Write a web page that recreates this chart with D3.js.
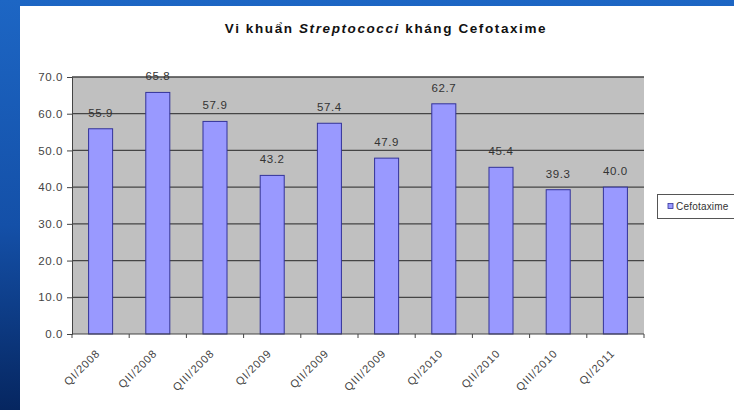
<!DOCTYPE html>
<html><head><meta charset="utf-8">
<script src="https://cdn.jsdelivr.net/npm/d3@7"></script>
<style>html,body{margin:0;padding:0;background:#fff;}svg{display:block;}</style>
</head><body>
<svg id="c" width="734" height="410"></svg>
<script>
const categories = ["QI/2008","QII/2008","QIII/2008","QI/2009","QII/2009","QIII/2009","QI/2010","QII/2010","QIII/2010","QI/2011"];
const values = [55.9,65.8,57.9,43.2,57.4,47.9,62.7,45.4,39.3,40.0];
const yTicks = [0,10,20,30,40,50,60,70];
const seriesName = "Cefotaxime";

const FONT = "Liberation Sans, Arial, sans-serif";
const svg = d3.select("#c");
// slide background
const bg = svg.append("defs").append("linearGradient").attr("id","lg").attr("x1",0).attr("y1",0).attr("x2",0).attr("y2",1);
bg.append("stop").attr("offset","0%").attr("stop-color","#1d66c4");
bg.append("stop").attr("offset","55%").attr("stop-color","#1450a8");
bg.append("stop").attr("offset","100%").attr("stop-color","#062660");
svg.append("rect").attr("width",734).attr("height",410).attr("fill","url(#lg)");
svg.append("rect").attr("x",20).attr("y",6).attr("width",714).attr("height",404).attr("fill","#fff");

const L=72,R=644,T=77,B=334;
const x = d3.scaleBand().domain(categories).range([L,R]).paddingInner(0.58).paddingOuter(0.29);
const y = d3.scaleLinear().domain([0,70]).range([B,T]);

svg.append("rect").attr("x",L).attr("y",T).attr("width",R-L).attr("height",B-T).attr("fill","#c0c0c0");

const g = svg.append("g");
g.selectAll("line.grid").data(yTicks.filter(d=>d>0)).join("line")
 .attr("x1",L).attr("x2",R).attr("y1",d=>y(d)).attr("y2",d=>y(d))
 .attr("stroke","#454545").attr("stroke-width",1.3);

g.selectAll("rect.bar").data(values).join("rect")
 .attr("x",(d,i)=>x(categories[i])).attr("width",x.bandwidth())
 .attr("y",d=>y(d)).attr("height",d=>B-y(d))
 .attr("fill","#9999ff").attr("stroke","#333399").attr("stroke-width",1);

g.selectAll("text.val").data(values).join("text")
 .attr("x",(d,i)=>x(categories[i])+x.bandwidth()/2).attr("y",d=>y(d)-12)
 .attr("text-anchor","middle").attr("font-family",FONT).attr("font-size",11.5).attr("letter-spacing",0.6).attr("fill","#333")
 .text(d=>d.toFixed(1));

// y axis
const yAx = svg.append("g").attr("transform",`translate(${L},0)`)
 .call(d3.axisLeft(y).tickValues(yTicks).tickFormat(d3.format(".1f")).tickSize(5).tickPadding(4));
yAx.select(".domain").attr("stroke","#444");
yAx.selectAll(".tick line").attr("stroke","#444");
yAx.selectAll("text").attr("font-family",FONT).attr("font-size",11.5).attr("letter-spacing",0.6).attr("fill","#444");

// x axis
svg.append("line").attr("x1",L).attr("x2",R).attr("y1",B).attr("y2",B).attr("stroke","#444");
svg.selectAll("line.xt").data(d3.range(categories.length+1)).join("line")
 .attr("x1",i=>L+i*(R-L)/categories.length).attr("x2",i=>L+i*(R-L)/categories.length)
 .attr("y1",B).attr("y2",B+4).attr("stroke","#444");
svg.selectAll("text.xl").data(categories).join("text")
 .attr("transform",d=>`translate(${x(d)+x.bandwidth()/2},${B+20}) rotate(-45)`)
 .attr("text-anchor","end").attr("font-family",FONT).attr("font-size",11).attr("letter-spacing",0.9).attr("fill","#444")
 .text(d=>d);

// title
const title = svg.append("text").attr("x",386).attr("y",33).attr("text-anchor","middle")
 .attr("font-family",FONT).attr("font-size",13.5).attr("letter-spacing",1.6).attr("font-weight","bold").attr("fill","#111");
title.append("tspan").text("Vi khuẩn ");
title.append("tspan").attr("font-style","italic").text("Streptococci");
title.append("tspan").text(" kháng Cefotaxime");

// legend
svg.append("rect").attr("x",657.5).attr("y",194.5).attr("width",90).attr("height",24).attr("fill","#fff").attr("stroke","#555");
svg.append("rect").attr("x",668).attr("y",203.5).attr("width",5).attr("height",5).attr("fill","#9999ff").attr("stroke","#333399").attr("stroke-width",0.8);
svg.append("text").attr("x",676).attr("y",210).attr("font-family",FONT).attr("font-size",10).attr("letter-spacing",0.2).attr("fill","#333").text(seriesName);
</script>
</body></html>
